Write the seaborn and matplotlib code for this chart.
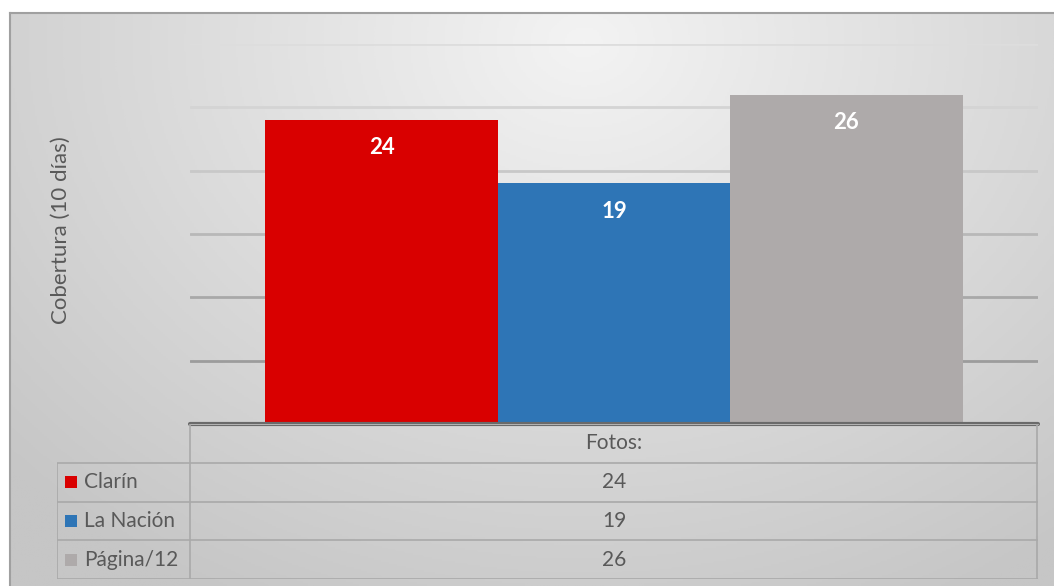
import numpy as np
import pandas as pd
import matplotlib.pyplot as plt
import seaborn as sns
from matplotlib.colors import LinearSegmentedColormap

# data
series_name = "Fotos:"
newspapers = ["Clarín", "La Nación", "Página/12"]
photos = [24, 19, 26]
colors = ["#d90000", "#2e75b6", "#aeaaaa"]
y_label = "Cobertura (10 días)"

W, H = 1054, 586
TXT = "#595959"
LINE = "#a9a9a9"

sns.set_style("white")
plt.rcParams["font.family"] = ["Lato", "DejaVu Sans"]

fig = plt.figure(figsize=(W / 100, H / 100), dpi=100)
fig.patch.set_facecolor("white")


def box(x0, y0, x1, y1):
    """pixel box (top-left origin) -> figure fraction rect"""
    return [x0 / W, 1 - y1 / H, (x1 - x0) / W, (y1 - y0) / H]


# radial gray background like the Excel chart area
bg = fig.add_axes(box(10, 13, W, H))
yy, xx = np.mgrid[0:1:300j, 0:1:500j]
r = np.sqrt(((xx - 0.55) / 0.75) ** 2 + ((yy - 0.05) / 1.1) ** 2)
cmap = LinearSegmentedColormap.from_list("bg", ["#f3f3f3", "#c6c6c6"])
bg.imshow(np.clip(r, 0, 1), cmap=cmap, vmin=0, vmax=1, extent=[0, 1, 0, 1],
          aspect="auto", origin="upper")
bg.set_xticks([])
bg.set_yticks([])
for side in ["right", "bottom"]:
    bg.spines[side].set_visible(False)
for side in ["top", "left"]:
    bg.spines[side].set_color("#a0a0a0")
    bg.spines[side].set_linewidth(1.5)

# bars
df = pd.DataFrame({"serie": [series_name] * len(newspapers),
                   "periodico": newspapers, "fotos": photos})
ax = fig.add_axes(box(190, 44, 1038, 424))
ax.set_facecolor("none")
sns.barplot(data=df, x="serie", y="fotos", hue="periodico", palette=colors,
            width=0.822, saturation=1, legend=False, linewidth=0, ax=ax)
ax.set_xlim(-0.5, 0.5)
ax.set_ylim(0, 30)
yticks = list(range(5, 31, 5))
ax.set_yticks(yticks)
# gridlines get lighter toward the top, as in the reference
grid_cols = ["#9c9c9c", "#a8a8a8", "#b8b8b8", "#c8c8c8", "#d4d4d4", "#dddddd"]
for t, c in zip(yticks, grid_cols):
    ax.axhline(t, color=c, lw=2, zorder=0)
ax.tick_params(length=0, labelleft=False, labelbottom=False)
ax.set_xlabel("")
ax.set_ylabel("")
for s in ax.spines.values():
    s.set_visible(False)
ax.axhline(0, color="#6a6a6a", lw=3, zorder=5, clip_on=False)
ax.axhline(0, color="#b5b5b5", lw=0.7, zorder=6, clip_on=False)

for p in ax.patches:
    if p.get_height() > 0:
        ax.annotate(f"{p.get_height():.0f}", (p.get_x() + p.get_width() / 2, p.get_height()),
                    xytext=(0, -20), textcoords="offset points", ha="center", va="center",
                    color="white", fontsize=16, fontweight="bold")

fig.text(61 / W, 1 - 230 / H, y_label, rotation=90, ha="center", va="center",
         color=TXT, fontsize=16)

# data table under the axis
tb = fig.add_axes(box(57, 424, 1038, 579))
tb.set_facecolor("none")
tb.set_xlim(57, 1038)
tb.set_ylim(4, 0)
tb.axis("off")
split = 190
tb.hlines([1, 2, 3, 4], 57, 1038, color=LINE, lw=1.2)
tb.vlines([57], 1, 4, color=LINE, lw=1.2)
tb.vlines([split, 1037], 0, 4, color=LINE, lw=1.2)
mid = (split + 1038) / 2
tb.text(mid, 0.5, series_name, ha="center", va="center", color=TXT, fontsize=15)
for i, (name, val, col) in enumerate(zip(newspapers, photos, colors)):
    row = i + 1.5
    tb.scatter([71], [row], marker="s", s=75, color=col, linewidths=0)
    tb.text(84, row, name, ha="left", va="center", color=TXT, fontsize=15)
    tb.text(mid, row, str(val), ha="center", va="center", color=TXT, fontsize=15)

fig.savefig("out.png", dpi=100)
